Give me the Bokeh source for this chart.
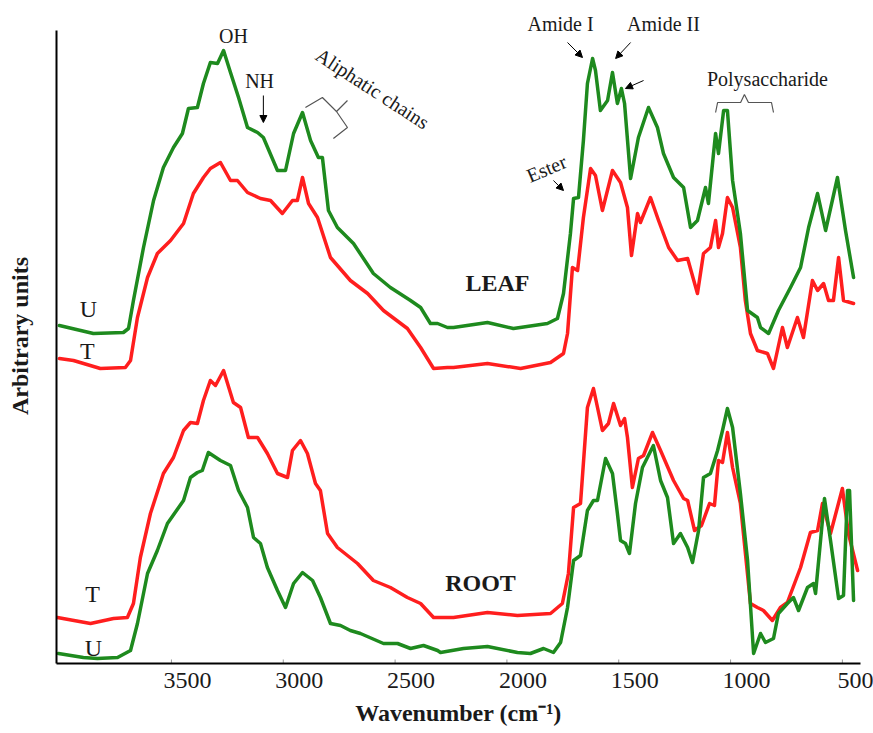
from bokeh.plotting import figure
from bokeh.models import (Range1d, FixedTicker, Arrow, NormalHead, ColumnDataSource, LinearAxis, Title)
from bokeh.core.properties import value
from bokeh.embed import file_html
from bokeh.resources import INLINE

# ---------------- data (wavenumber cm-1, arbitrary units) ----------------
leaf_u_wn = [4001, 3849, 3715, 3692, 3670, 3625, 3580, 3536, 3491, 3451, 3424, 3384, 3357, 3326, 3294, 3267,
             3236, 3200, 3160, 3115, 3089, 3026, 2990, 2954, 2914, 2878, 2843, 2825, 2798, 2758, 2686, 2597,
             2521, 2431, 2386, 2342, 2310, 2266, 2239, 2087, 1971, 1819, 1774, 1747, 1716, 1702, 1680, 1658,
             1640, 1617, 1604, 1582, 1550, 1528, 1506, 1488, 1474, 1447, 1412, 1367, 1327, 1300, 1255, 1210,
             1179, 1148, 1112, 1099, 1067, 1054, 1031, 1014, 991, 956, 924, 880, 866, 830, 786, 732, 687, 651,
             611, 575, 522, 486, 450]
leaf_u_abs = [338, 330, 331, 335, 363, 416, 463, 496, 516, 530, 555, 556, 580, 601, 600, 613,
              591, 566, 536, 531, 526, 493, 493, 530, 551, 523, 506, 506, 453, 436, 420, 390,
              376, 363, 356, 340, 340, 336, 336, 341, 335, 340, 345, 370, 430, 465, 466, 523,
              580, 605, 593, 553, 563, 591, 560, 575, 560, 485, 526, 556, 536, 510, 486, 476,
              436, 443, 476, 460, 530, 510, 553, 553, 483, 430, 353, 346, 336, 330, 353, 376, 396, 436,
              470, 433, 486, 433, 386]

leaf_t_wn = [4001, 3938, 3818, 3706, 3683, 3652, 3607, 3563, 3504, 3446, 3402, 3357, 3326, 3281, 3236, 3205,
             3160, 3102, 3057, 3004, 2959, 2937, 2914, 2887, 2847, 2789, 2700, 2623, 2552, 2445, 2386, 2328,
             2266, 2239, 2087, 1939, 1805, 1747, 1729, 1707, 1684, 1658, 1626, 1604, 1573, 1528, 1492, 1461,
             1443, 1416, 1403, 1358, 1322, 1277, 1237, 1192, 1148, 1121, 1090, 1067, 1054, 1036, 1014, 991,
             956, 934, 911, 880, 835, 808, 768, 746, 701, 674, 634, 611, 584, 562, 540, 517, 495, 450]
leaf_t_abs = [305, 303, 295, 296, 303, 346, 386, 410, 423, 440, 470, 486, 495, 501, 483, 483,
              471, 465, 463, 450, 463, 463, 486, 460, 446, 406, 383, 370, 353, 335, 316, 295,
              296, 296, 300, 295, 301, 310, 330, 396, 393, 446, 495, 488, 453, 493, 481, 456,
              408, 450, 441, 466, 443, 416, 403, 405, 370, 410, 416, 443, 416, 430, 466, 456,
              416, 363, 330, 313, 310, 295, 336, 316, 346, 326, 383, 373, 380, 363, 363, 406, 363, 360]

root_t_wn = [4010, 3862, 3759, 3697, 3670, 3639, 3594, 3536, 3491, 3446, 3415, 3384, 3357, 3326, 3303, 3267,
             3223, 3191, 3156, 3115, 3071, 3026, 2981, 2959, 2923, 2892, 2856, 2834, 2802, 2758, 2668, 2597,
             2521, 2445, 2386, 2328, 2266, 2239, 2087, 1953, 1805, 1752, 1725, 1702, 1671, 1640, 1613, 1573,
             1546, 1523, 1492, 1474, 1461, 1439, 1412, 1389, 1349, 1313, 1255, 1210, 1192, 1161, 1130, 1094,
             1072, 1054, 1036, 1014, 991, 956, 911, 880, 853, 813, 777, 746, 687, 643, 611, 589, 553, 500,
             473, 432]
root_t_abs = [46, 40, 45, 46, 60, 106, 150, 190, 206, 233, 241, 240, 263, 283, 278, 293,
              261, 256, 226, 226, 210, 190, 186, 213, 223, 210, 180, 173, 130, 116, 100, 83,
              76, 66, 60, 46, 46, 46, 51, 48, 50, 60, 90, 156, 160, 256, 275, 233,
              240, 260, 238, 245, 226, 176, 205, 208, 231, 213, 183, 165, 163, 133, 138, 160,
              158, 203, 201, 231, 196, 160, 60, 56, 53, 43, 56, 61, 96, 131, 133, 160, 130, 175,
              130, 93]

root_u_wn = [4005, 3894, 3831, 3741, 3683, 3652, 3607, 3563, 3518, 3446, 3415, 3384, 3362, 3335, 3281, 3236,
             3200, 3160, 3133, 3102, 3071, 3026, 2990, 2954, 2914, 2869, 2834, 2789, 2744, 2700, 2655, 2552,
             2489, 2431, 2373, 2310, 2297, 2194, 2087, 1953, 1895, 1836, 1792, 1760, 1729, 1702, 1671, 1640,
             1613, 1595, 1559, 1528, 1506, 1492, 1470, 1452, 1425, 1394, 1345, 1313, 1282, 1255, 1224, 1192,
             1170, 1143, 1121, 1090, 1058, 1036, 1014, 991, 956, 924, 897, 866, 844, 808, 786, 746, 719, 696,
             656, 629, 620, 580, 553, 517, 495, 477, 468, 450]
root_u_abs = [10, 6, 5, 6, 13, 40, 90, 113, 140, 163, 186, 191, 193, 211, 203, 198,
              173, 156, 126, 120, 96, 73, 56, 80, 91, 83, 66, 40, 38, 33, 30, 20,
              20, 15, 18, 13, 11, 15, 17, 11, 10, 15, 11, 21, 56, 103, 108, 153,
              163, 163, 205, 190, 150, 123, 120, 110, 160, 196, 218, 183, 166, 120, 130, 116,
              101, 133, 186, 190, 213, 233, 255, 236, 170, 103, 10, 30, 21, 25, 50, 60, 66, 53,
              76, 80, 70, 165, 123, 65, 68, 173, 173, 63]

tick_values = [3500, 3000, 2500, 2000, 1500, 1000, 500]

# annotation texts
note_text = ["OH", "NH", "Amide I", "Amide II", "Polysaccharide", "U", "T", "T", "U"]
note_wn = [3223, 3106, 1760, 1300, 835, 3871, 3876, 3853, 3849]
note_abs = [628, 583, 640, 640, 585, 355, 313, 70, 16]
note_size = ["20px", "20px", "20px", "20px", "20px", "24px", "24px", "24px", "24px"]

bold_text = ["LEAF", "ROOT"]
bold_wn = [2042, 2118]
bold_abs = [381, 81]

rot_text = ["Aliphatic chains", "Ester"]
rot_wn = [2601, 1823]
rot_abs = [575, 495]
rot_angle = [-0.576, 0.40]

# arrows: (start wn, start abs, end wn, end abs)
arrows = [(3089, 568, 3089, 541), (1729, 621, 1662, 606), (1447, 621, 1514, 605),
          (1389, 583, 1470, 575), (1792, 483, 1747, 473)]

ali_brace_wn = [2901, 2825, 2762, 2713, 2776]
ali_brace_abs = [556, 566, 552, 536, 525]
ali_nub_wn = [2762, 2713]
ali_nub_abs = [552, 563]
poly_brace_wn = [1067, 1058, 955, 938, 920, 817, 808]
poly_brace_abs = [551, 561, 561, 569, 561, 561, 551]

GREEN = "#1e8a1e"
RED = "#ff1e1e"
FONT = "Liberation Serif"
INK = "#1a1a1a"

X_START, X_END = 4014, 419
FRAME_W = 873 - 56 - 13
LABEL_SHIFT_PX = 16  # tick labels sit a little right of their tick marks
shift = LABEL_SHIFT_PX * (X_START - X_END) / FRAME_W
TICK_LEN = 4

p = figure(width=873, height=733, output_backend="svg", toolbar_location=None,
           x_range=Range1d(X_START, X_END), y_range=Range1d(0, 655), x_axis_location=None,
           min_border_left=56, min_border_right=13, min_border_top=8, min_border_bottom=70)
p.grid.visible = False
p.outline_line_color = None
p.background_fill_color = "white"
p.border_fill_color = "white"

# tick marks at the true tick positions
p.segment(x0=tick_values, y0=[0] * len(tick_values), x1=tick_values, y1=[TICK_LEN] * len(tick_values),
          line_color="#999999", line_width=1)

for wn, ab, col in [(leaf_t_wn, leaf_t_abs, RED), (leaf_u_wn, leaf_u_abs, GREEN),
                    (root_t_wn, root_t_abs, RED), (root_u_wn, root_u_abs, GREEN)]:
    p.line(wn, ab, line_color=col, line_width=3.5, line_join="round", line_cap="round")

# x axis: line + labels (labels offset slightly right, as in the reference)
p.extra_x_ranges = {"lbl": Range1d(X_START + shift, X_END + shift)}
lbl = LinearAxis(x_range_name="lbl", ticker=FixedTicker(ticks=tick_values),
                 axis_line_color="black", axis_line_width=2,
                 major_tick_line_color=None, minor_tick_line_color=None,
                 major_tick_in=0, major_tick_out=0, major_label_standoff=9,
                 major_label_text_font=FONT, major_label_text_font_size="24px",
                 major_label_text_color=INK)
p.add_layout(lbl, "below")

xt = Title(text="Wavenumber (cm\u207b\u00b9)", align="center", offset=36, standoff=15,
           text_font=FONT, text_font_size="24px", text_font_style="bold", text_color=INK)
p.add_layout(xt, "below")

# y axis
p.yaxis.ticker = FixedTicker(ticks=[])
p.yaxis.bounds = (0, 633)
p.yaxis.axis_line_width = 2
p.yaxis.axis_line_color = "black"
p.yaxis.major_tick_in = 0
p.yaxis.major_tick_out = 0
p.yaxis.minor_tick_line_color = None
p.yaxis.axis_label = "Arbitrary units"
p.yaxis.axis_label_text_font = FONT
p.yaxis.axis_label_text_font_size = "24px"
p.yaxis.axis_label_text_font_style = "bold"
p.yaxis.axis_label_text_color = INK
p.yaxis.axis_label_standoff = 24

# annotations
src = ColumnDataSource(dict(x=note_wn, y=note_abs, t=note_text, s=note_size))
p.text(x="x", y="y", text="t", source=src, text_font=value(FONT), text_font_size="s",
       text_align="center", text_baseline="middle", text_color=INK)
bsrc = ColumnDataSource(dict(x=bold_wn, y=bold_abs, t=bold_text))
p.text(x="x", y="y", text="t", source=bsrc, text_font=value(FONT), text_font_size="24px",
       text_font_style="bold", text_align="center", text_baseline="middle", text_color=INK)
rsrc = ColumnDataSource(dict(x=rot_wn, y=rot_abs, t=rot_text, a=rot_angle))
p.text(x="x", y="y", text="t", angle="a", source=rsrc, text_font=value(FONT), text_font_size="20px",
       text_align="center", text_baseline="middle", text_color=INK)

for (x0, y0, x1, y1) in arrows:
    p.add_layout(Arrow(end=NormalHead(size=7, fill_color="black", line_color="black"),
                       x_start=x0, y_start=y0, x_end=x1, y_end=y1, line_color="black", line_width=1))

p.line(ali_brace_wn, ali_brace_abs, line_color="#555555", line_width=1.2)
p.line(ali_nub_wn, ali_nub_abs, line_color="#555555", line_width=1.2)
p.line(poly_brace_wn, poly_brace_abs, line_color="#555555", line_width=1.2)

open("out.html", "w").write(file_html(p, INLINE))
